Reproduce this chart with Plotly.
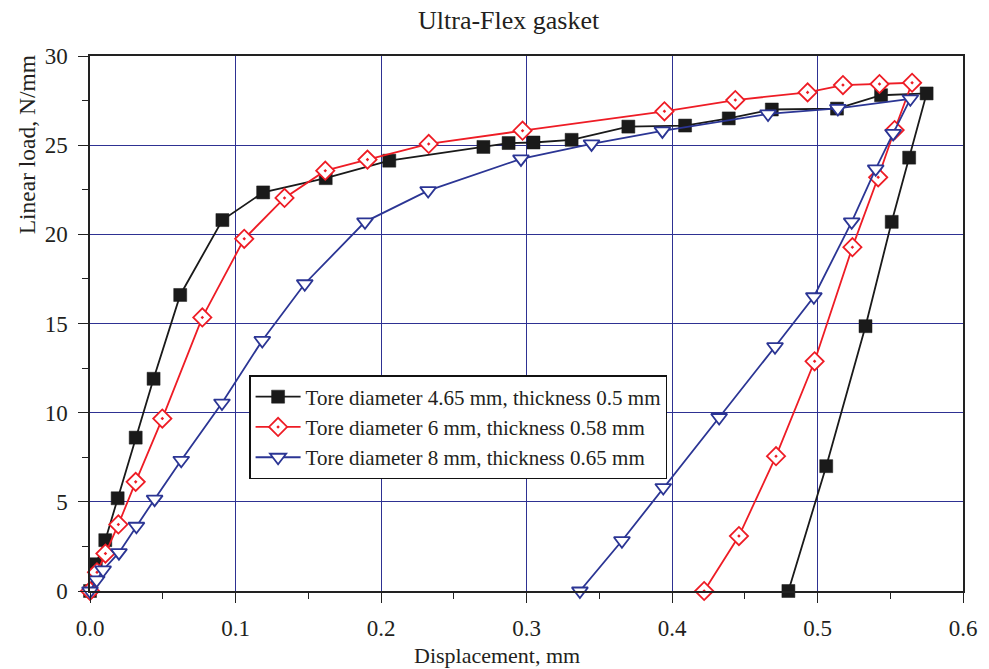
import plotly.graph_objects as go

# Data
x_465 = [0, 0.004, 0.0105, 0.019, 0.0314, 0.0437, 0.062, 0.091, 0.119, 0.162, 0.2057, 0.2704,
         0.2877, 0.3048, 0.331, 0.370, 0.409, 0.439, 0.4686, 0.5134, 0.5437, 0.575,
         0.563, 0.551, 0.533, 0.506, 0.48]
y_465 = [0, 1.5, 2.85, 5.2, 8.6, 11.9, 16.6, 20.8, 22.35, 23.15, 24.13, 24.9,
         25.12, 25.15, 25.3, 26.04, 26.1, 26.5, 27.0, 27.05, 27.8, 27.9,
         24.3, 20.7, 14.85, 7.0, 0]

x_6 = [0, 0.0048, 0.0106, 0.0195, 0.0314, 0.0497, 0.0772, 0.106, 0.1337, 0.1617, 0.1907,
       0.2328, 0.2973, 0.3948, 0.4435, 0.4932, 0.5175, 0.5426, 0.565,
       0.553, 0.5417, 0.524, 0.498, 0.4715, 0.446, 0.4221]
y_6 = [0, 1.05, 2.1, 3.73, 6.12, 9.67, 15.34, 19.75, 22.04, 23.57, 24.19,
       25.07, 25.81, 26.9, 27.53, 27.96, 28.37, 28.43, 28.5,
       25.85, 23.2, 19.28, 12.88, 7.56, 3.08, 0]

x_8 = [0, 0.0046, 0.009, 0.0199, 0.0319, 0.0444, 0.0627, 0.0907, 0.1184, 0.1476, 0.189,
       0.2324, 0.2962, 0.3447, 0.3934, 0.466, 0.514, 0.5638,
       0.552, 0.540, 0.5235, 0.4975, 0.4708, 0.4324, 0.394, 0.3656, 0.3367]
y_8 = [0, 0.62, 1.18, 2.15, 3.63, 5.15, 7.33, 10.54, 14.05, 17.23, 20.7,
       22.45, 24.23, 25.07, 25.8, 26.75, 27.06, 27.6,
       25.66, 23.67, 20.7, 16.5, 13.7, 9.73, 5.8, 2.82, 0]

names = ["Tore diameter 4.65 mm, thickness 0.5 mm",
         "Tore diameter 6 mm, thickness 0.58 mm",
         "Tore diameter 8 mm, thickness 0.65 mm"]

title_text = "Ultra-Flex gasket"
x_title = "Displacement, mm"
y_title = "Linear load, N/mm"

FONT = "Liberation Serif"
TXT = "#231f20"
GRID = "#2e3192"

W, H = 989, 669
ML, MR, MT, MB = 90, 21, 56, 78
PW, PH = W - ML - MR, H - MT - MB

def px_x(p):
    return (p - ML) / PW

def px_y(p):
    return (H - MB - p) / PH

fig = go.Figure()
fig.add_trace(go.Scatter(
    x=x_465, y=y_465, name=names[0], mode="lines+markers", cliponaxis=False,
    line=dict(color="#1a1a1a", width=1.8),
    marker=dict(symbol="square", size=13, color="#1a1a1a",
                line=dict(color="#1a1a1a", width=0.5))))
fig.add_trace(go.Scatter(
    x=x_6, y=y_6, name=names[1], mode="lines+markers", cliponaxis=False,
    line=dict(color="#ee1c25", width=1.8),
    marker=dict(symbol="diamond-dot", size=14, color="white",
                line=dict(color="#ee1c25", width=1.8))))
fig.add_trace(go.Scatter(
    x=x_8, y=y_8, name=names[2], mode="lines+markers", cliponaxis=False,
    line=dict(color="#2b3594", width=1.8),
    marker=dict(symbol="triangle-down", size=14, color="white",
                line=dict(color="#2b3594", width=1.8))))

fig.update_layout(
    width=W, height=H,
    margin=dict(l=ML, r=MR, t=MT, b=MB),
    paper_bgcolor="white", plot_bgcolor="white",
    font=dict(family=FONT, size=22, color=TXT),
    showlegend=True,
    legend=dict(x=px_x(250), y=px_y(375), xanchor="left", yanchor="top",
                bgcolor="white", bordercolor="#111", borderwidth=1.5,
                font=dict(family=FONT, size=21, color=TXT),
                tracegroupgap=0, itemwidth=45),
    annotations=[
        dict(text=title_text, x=px_x(511), xref="paper", y=px_y(20), yref="paper",
             xanchor="center", yanchor="middle", showarrow=False,
             font=dict(family=FONT, size=26, color=TXT)),
        dict(text=x_title, x=px_x(499), xref="paper", y=px_y(655), yref="paper",
             xanchor="center", yanchor="middle", showarrow=False,
             font=dict(family=FONT, size=22, color=TXT)),
        dict(text=y_title, x=px_x(27), xref="paper", y=px_y(145), yref="paper",
             xanchor="center", yanchor="middle", showarrow=False, textangle=-90,
             font=dict(family=FONT, size=23.5, color=TXT)),
    ],
)

fig.update_xaxes(
    range=[0, 0.6], dtick=0.1, tick0=0, tickformat=".1f",
    showgrid=True, gridcolor=GRID, gridwidth=1,
    showline=True, linecolor="#222", linewidth=1.5, mirror=True,
    ticks="outside", ticklen=10, tickwidth=1.3, tickcolor="#222",
    minor=dict(dtick=0.05, ticks="outside", ticklen=6, tickwidth=1.3, tickcolor="#222", showgrid=False),
    zeroline=False, ticklabelstandoff=6,
    tickfont=dict(family=FONT, size=23, color=TXT),
)
fig.update_yaxes(
    range=[0, 30], dtick=5, tick0=0,
    showgrid=True, gridcolor=GRID, gridwidth=1,
    showline=True, linecolor="#222", linewidth=1.5, mirror=True,
    ticks="outside", ticklen=10, tickwidth=1.3, tickcolor="#222",
    minor=dict(dtick=2.5, ticks="outside", ticklen=6, tickwidth=1.3, tickcolor="#222", showgrid=False),
    zeroline=False, ticklabelstandoff=6,
    tickfont=dict(family=FONT, size=23, color=TXT),
)

fig.write_html("out.html")
